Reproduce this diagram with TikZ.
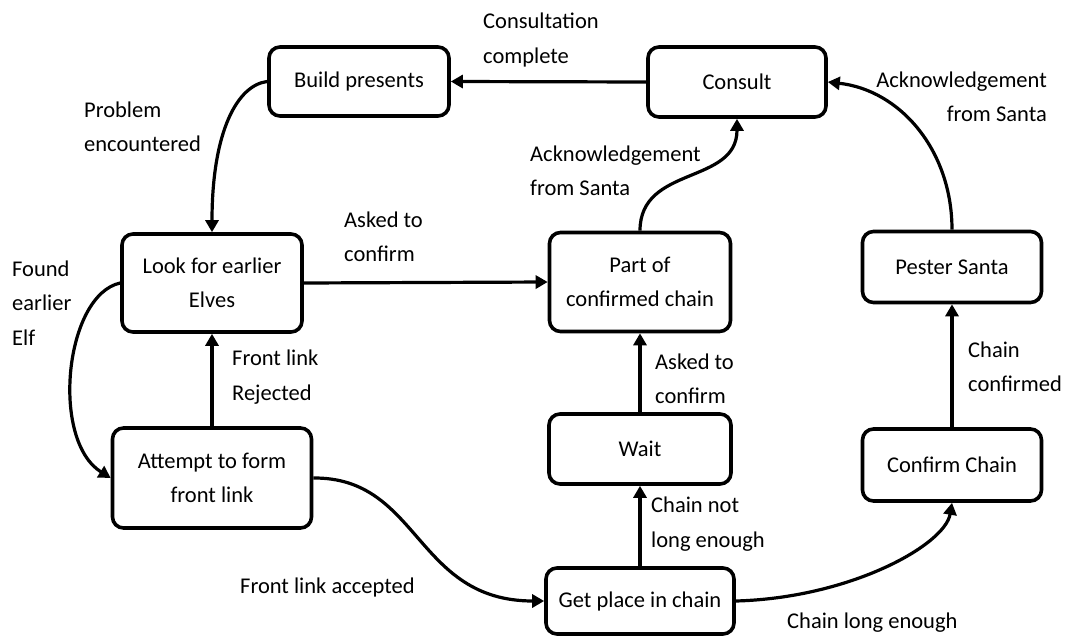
\documentclass[tikz,border=0pt]{standalone}
\usepackage{fontspec}
\setmainfont{Carlito}
\usetikzlibrary{arrows.meta}
\begin{document}
\begin{tikzpicture}[x=1pt,y=-1pt,
  state/.style={draw, line width=3.6pt, rounded corners=11pt, align=center,
    font=\fontsize{22.5}{34.5}\selectfont, inner sep=0pt},
  lbl/.style={font=\fontsize{22.5}{34.5}\selectfont, inner sep=0pt, align=left, anchor=west},
  arr/.style={line width=3.2pt, -{Triangle[length=12pt,width=13pt]}}]
\useasboundingbox (0,0) rectangle (1082,637);

\node[state, minimum width=180pt, minimum height=69pt] (build) at (359,81.5) {Build presents};
\node[state, minimum width=178pt, minimum height=70pt] (consult) at (737,82) {Consult};
\node[state, minimum width=180pt, minimum height=98pt] (look) at (212,283) {Look for earlier\\Elves};
\node[state, minimum width=181pt, minimum height=99pt] (part) at (640,282) {Part of\\confirmed chain};
\node[state, minimum width=179pt, minimum height=71pt] (pester) at (952,267) {Pester Santa};
\node[state, minimum width=199pt, minimum height=100pt] (attempt) at (212,478) {Attempt to form\\front link};
\node[state, minimum width=182pt, minimum height=70pt] (wait) at (640,449) {Wait};
\node[state, minimum width=179pt, minimum height=72pt] (confirm) at (952,465) {Confirm Chain};
\node[state, minimum width=188pt, minimum height=66pt] (get) at (640,601) {Get place in chain};

% connectors
\draw[arr] (consult.west) -- (build.east);
\draw[arr] (build.west) .. controls (238,85) and (212,130) .. (look.north);
\draw[arr] (look.west) .. controls (65,295) and (50,440) .. (attempt.west);
\draw[arr] (attempt.north) -- (look.south);
\draw[arr] (look.east) -- (part.west);
\draw[arr] (attempt.east) .. controls (420,477) and (415,601) .. (get.west);
\draw[arr] (get.north) -- (wait.south);
\draw[arr] (wait.north) -- (part.south);
\draw[arr] (part.north) .. controls (640,165) and (737,185) .. (consult.south);
\draw[arr] (get.east) .. controls (850,598) and (945,545) .. (confirm.south);
\draw[arr] (confirm.north) -- (pester.south);
\draw[arr] (pester.north) .. controls (952,150) and (900,90) .. (consult.east);

% labels
\node[lbl] (l1) at (483,40) {Consultation\\complete};
\node[lbl] (l2) at (84,127) {Problem\\encountered};
\node[lbl] (l3) at (12,303) {Found\\earlier\\Elf};
\node[lbl] (l4) at (344,237) {Asked to\\confirm};
\node[lbl] (l5) at (530,171) {Acknowledgement\\from Santa};
\node[lbl, anchor=east, align=right] (l6) at (1047,97) {Acknowledgement\\from Santa};
\node[lbl] (l7) at (232,377) {Front link\\Rejected};
\node[lbl] (l8) at (240,587) {Front link accepted};
\node[lbl] (l9) at (655,379) {Asked to\\confirm};
\node[lbl] (l10) at (651,524) {Chain not\\long enough};
\node[lbl] (l11) at (968,367) {Chain\\confirmed};
\node[lbl] (l12) at (787,623) {Chain long enough};
\end{tikzpicture}
\end{document}
